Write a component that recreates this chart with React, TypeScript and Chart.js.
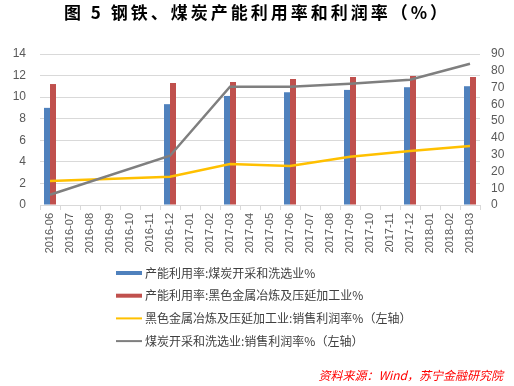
import React, { useEffect, useRef } from 'react';
import { Chart, registerables } from 'chart.js';

Chart.register(...registerables);

const categories = [
  '2016-06', '2016-07', '2016-08', '2016-09', '2016-10', '2016-11', '2016-12',
  '2017-01', '2017-02', '2017-03', '2017-04', '2017-05', '2017-06', '2017-07',
  '2017-08', '2017-09', '2017-10', '2017-11', '2017-12', '2018-01', '2018-02', '2018-03',
];

// capacity utilisation (%), right axis
const coalUtil = [57.9, null, null, null, null, null, 60.1, null, null, 65.0, null, null, 67.2, null, null, 68.6, null, null, 70.2, null, null, 70.8];
const steelUtil = [72.1, null, null, null, null, null, 72.7, null, null, 73.3, null, null, 75.1, null, null, 76.3, null, null, 76.9, null, null, 76.3];
// profit margin (%), left axis
const steelProfit = [2.22, null, null, null, null, null, 2.62, null, null, 3.8, null, null, 3.61, null, null, 4.48, null, null, 5.0, null, null, 5.47];
const coalProfit = [0.95, null, null, null, null, null, 4.57, null, null, 10.96, null, null, 10.96, null, null, 11.24, null, null, 11.61, null, null, 13.1];

const leftTicks = { min: 0, max: 14, step: 2 };
const rightTicks = { min: 0, max: 90, step: 10 };

const titleText = '图 5 钢铁、煤炭产能利用率和利润率（%）';
const sourceText = '资料来源：Wind，苏宁金融研究院';
const seriesNames = [
  '产能利用率:煤炭开采和洗选业%',
  '产能利用率:黑色金属冶炼及压延加工业%',
  '黑色金属冶炼及压延加工业:销售利润率%（左轴）',
  '煤炭开采和洗选业:销售利润率%（左轴）',
];
const colors = ['#4F81BD', '#C0504D', '#FFC000', '#7F7F7F'];

const CJK = '"Noto Sans CJK SC", "Liberation Sans", sans-serif';

const decorPlugin = {
  id: 'decor',
  afterDraw(chart: any) {
    const ctx = chart.ctx as CanvasRenderingContext2D;
    ctx.save();
    // title
    ctx.fillStyle = '#000000';
    ctx.font = `bold 17px ${CJK}`;
    (ctx as any).letterSpacing = '3px';
    ctx.textAlign = 'center';
    ctx.textBaseline = 'middle';
    ctx.fillText(titleText, 257, 13);
    (ctx as any).letterSpacing = '0px';

    // legend
    ctx.textAlign = 'left';
    ctx.font = `12px ${CJK}`;
    seriesNames.forEach((name, i) => {
      const y = 273 + i * 22.7;
      ctx.fillStyle = colors[i];
      if (i < 2) {
        ctx.fillRect(116, y - 2, 26, 4);
      } else {
        ctx.fillRect(116, y - 1, 26, 2);
      }
      ctx.fillStyle = '#404040';
      ctx.fillText(name, 145, y);
    });

    // source
    ctx.fillStyle = '#FF0000';
    ctx.font = `italic 12px ${CJK}`;
    ctx.textAlign = 'right';
    ctx.fillText(sourceText, 503, 375);
    ctx.restore();
  },
};

export default function App() {
  const ref = useRef<HTMLCanvasElement | null>(null);

  useEffect(() => {
    if (!ref.current) return;
    const chart = new Chart(ref.current, {
      type: 'bar',
      data: {
        labels: categories,
        datasets: [
          {
            type: 'line',
            label: seriesNames[3],
            data: coalProfit,
            borderColor: colors[3],
            backgroundColor: colors[3],
            borderWidth: 2.5,
            pointRadius: 0,
            spanGaps: true,
            tension: 0,
            yAxisID: 'y',
            order: 0,
          } as any,
          {
            type: 'line',
            label: seriesNames[2],
            data: steelProfit,
            borderColor: colors[2],
            backgroundColor: colors[2],
            borderWidth: 2.5,
            pointRadius: 0,
            spanGaps: true,
            tension: 0,
            yAxisID: 'y',
            order: 1,
          } as any,
          {
            type: 'bar',
            label: seriesNames[0],
            data: coalUtil,
            backgroundColor: colors[0],
            yAxisID: 'y1',
            categoryPercentage: 0.6,
            barPercentage: 1,
            order: 2,
          } as any,
          {
            type: 'bar',
            label: seriesNames[1],
            data: steelUtil,
            backgroundColor: colors[1],
            yAxisID: 'y1',
            categoryPercentage: 0.6,
            barPercentage: 1,
            order: 3,
          } as any,
        ],
      },
      options: {
        animation: false,
        responsive: false,
        layout: { padding: { top: 54, left: 0, right: 0, bottom: 0 } },
        plugins: {
          legend: { display: false },
          title: { display: false },
          tooltip: { enabled: false },
        },
        scales: {
          x: {
            type: 'category',
            offset: true,
            grid: {
              offset: true,
              drawOnChartArea: false,
              drawTicks: true,
              tickLength: 5,
              color: '#D9D9D9',
            },
            border: { color: '#D9D9D9' },
            ticks: {
              autoSkip: false,
              minRotation: 90,
              maxRotation: 90,
              padding: 3,
              color: '#595959',
              font: { family: '"Liberation Sans", sans-serif', size: 11 },
            },
            afterFit: (s: any) => { s.height = 181; },
          },
          y: {
            position: 'left',
            min: leftTicks.min,
            max: leftTicks.max,
            ticks: {
              stepSize: leftTicks.step,
              autoSkip: false,
              maxTicksLimit: 30,
              padding: 14,
              color: '#595959',
              font: { family: '"Liberation Sans", sans-serif', size: 12 },
            },
            grid: { color: '#D9D9D9', drawTicks: false },
            border: { display: false },
            afterFit: (s: any) => { s.width = 40; },
          },
          y1: {
            position: 'right',
            min: rightTicks.min,
            max: rightTicks.max,
            ticks: {
              stepSize: rightTicks.step,
              autoSkip: false,
              maxTicksLimit: 30,
              padding: 11,
              color: '#595959',
              font: { family: '"Liberation Sans", sans-serif', size: 12 },
            },
            grid: { drawOnChartArea: false, drawTicks: false },
            border: { display: false },
            afterFit: (s: any) => { s.width = 34; },
          },
        },
      } as any,
      plugins: [decorPlugin],
    });
    return () => chart.destroy();
  }, []);

  return (
    <div style={{ position: 'fixed', left: 0, top: 0, width: 514, height: 386, background: '#ffffff' }}>
      <canvas ref={ref} width={514} height={386} style={{ display: 'block', width: 514, height: 386 }} />
    </div>
  );
}
